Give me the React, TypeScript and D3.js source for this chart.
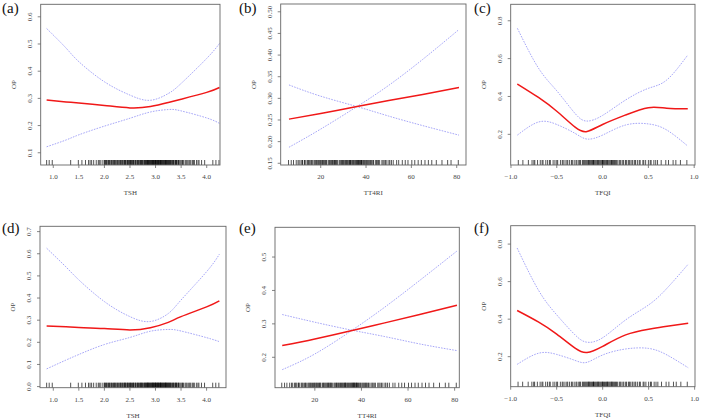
import React from 'react'
import * as d3 from 'd3'

// x grids at which the fitted curves were read
const tshGrid = [0.87, 1.25, 1.5, 2.0, 2.5, 2.9, 3.25, 3.5, 4.0, 4.25]
const tt4Grid = [6, 20, 36, 50, 65, 81]
const tfqiGrid = [-0.93, -0.7, -0.5, -0.3, -0.17, 0, 0.25, 0.5, 0.7, 0.93]

// (a)
const aFit = [0.294, 0.287, 0.283, 0.274, 0.265, 0.27, 0.285, 0.297, 0.322, 0.34]
const aUpper = [0.557, 0.485, 0.435, 0.361, 0.312, 0.293, 0.318, 0.355, 0.447, 0.502]
const aLower = [0.122, 0.147, 0.166, 0.198, 0.227, 0.25, 0.259, 0.254, 0.228, 0.208]
// (b)
const bFit = [0.252, 0.265, 0.281, 0.295, 0.309, 0.325]
const bUpper = [0.187, 0.229, 0.281, 0.33, 0.39, 0.459]
const bLower = [0.331, 0.305, 0.281, 0.259, 0.237, 0.215]
// (c)
const cFit = [0.466, 0.395, 0.322, 0.238, 0.215, 0.252, 0.302, 0.341, 0.338, 0.335]
const cUpper = [0.76, 0.55, 0.43, 0.31, 0.27, 0.3, 0.381, 0.443, 0.487, 0.619]
const cLower = [0.196, 0.265, 0.252, 0.205, 0.175, 0.196, 0.249, 0.255, 0.223, 0.138]
// (d)
const dFit = [0.274, 0.27, 0.267, 0.262, 0.256, 0.266, 0.29, 0.316, 0.36, 0.387]
const dUpper = [0.625, 0.54, 0.482, 0.384, 0.316, 0.294, 0.33, 0.391, 0.519, 0.598]
const dLower = [0.08, 0.12, 0.145, 0.19, 0.222, 0.25, 0.258, 0.251, 0.221, 0.203]
// (e)
const eFit = [0.235, 0.255, 0.28, 0.303, 0.328, 0.356]
const eUpper = [0.163, 0.21, 0.281, 0.35, 0.43, 0.518]
const eLower = [0.328, 0.305, 0.281, 0.262, 0.24, 0.22]
// (f)
const fFit = [0.446, 0.385, 0.32, 0.245, 0.222, 0.255, 0.316, 0.346, 0.362, 0.378]
const fUpper = [0.779, 0.556, 0.423, 0.316, 0.277, 0.301, 0.396, 0.476, 0.565, 0.693]
const fLower = [0.159, 0.218, 0.212, 0.18, 0.17, 0.209, 0.241, 0.244, 0.209, 0.141]

// rug observations
const tshRug = [0.87, 0.92, 0.98, 1.34, 1.49, 1.56, 1.63, 1.69, 1.72, 1.79, 1.84, 1.88, 1.93, 1.97,
  2.0, 2.02, 2.05, 2.07, 2.1, 2.13, 2.14, 2.18, 2.2, 2.23, 2.26, 2.28, 2.31, 2.33, 2.35, 2.38, 2.4,
  2.42, 2.45, 2.47, 2.5, 2.52, 2.55, 2.57, 2.6, 2.61, 2.64, 2.66, 2.69, 2.7, 2.72, 2.74, 2.77, 2.79,
  2.8, 2.83, 2.85, 2.87, 2.89, 2.9, 2.92, 2.94, 2.96, 2.98, 3.0, 3.01, 3.03, 3.05, 3.07, 3.08, 3.1,
  3.12, 3.14, 3.16, 3.18, 3.2, 3.22, 3.24, 3.26, 3.28, 3.3, 3.33, 3.35, 3.38, 3.4, 3.42, 3.45, 3.48,
  3.52, 3.55, 3.58, 3.62, 3.65, 3.69, 3.72, 3.76, 3.8, 3.85, 3.9, 3.96, 4.12, 4.18, 4.24,
  2.01, 2.04, 2.08, 2.11, 2.16, 2.19, 2.22, 2.25, 2.29, 2.32, 2.36, 2.39, 2.41, 2.44, 2.46, 2.49,
  2.51, 2.53, 2.56, 2.58, 2.62, 2.65, 2.67, 2.71, 2.73, 2.75, 2.78, 2.81, 2.82, 2.84, 2.86, 2.88,
  2.91, 2.93, 2.95, 2.97, 2.99, 3.02, 3.04, 3.06, 3.09, 3.11, 3.13, 3.15, 3.17, 3.19, 3.21, 3.23,
  3.25, 3.27, 3.29, 3.31, 3.34, 3.36, 3.39, 3.41, 3.44, 3.46, 3.5, 3.53, 3.6, 3.67, 3.74, 3.83,
  1.75, 1.9, 2.95, 3.0, 3.1, 3.2, 3.05, 2.85]
const tt4Rug = [5.8, 7, 8, 9.2, 10, 11.3, 12, 12.8, 13.5, 14.2, 15, 15.6, 16.3, 17, 17.8, 18.5, 19,
  19.8, 20.5, 21.2, 22, 22.6, 23.3, 24, 24.8, 25.5, 26.1, 26.8, 27.5, 28.2, 29, 29.6, 30.3, 31, 31.7,
  32.4, 33, 33.8, 34.5, 35.2, 36, 36.6, 37.3, 38, 38.7, 39.4, 40.2, 41, 41.8, 42.5, 43.3, 44.1, 45,
  46, 47, 48, 49.2, 50.1, 52, 53.5, 54.4, 56, 57.3, 58.5, 60.2, 61.5, 63, 64.4, 66, 67.5, 69, 71,
  73.5, 76, 77.5, 80.7,
  10.5, 11.8, 13, 14.6, 16, 17.4, 18.2, 19.4, 20.1, 21.6, 22.3, 23.7, 24.4, 25.2, 26.5, 27.1, 28.6,
  29.3, 30, 30.7, 31.4, 32, 32.7, 33.4, 34.1, 34.8, 35.5, 35.9, 36.3, 37, 37.6, 38.3, 39, 39.7, 40.6,
  41.4, 42.1, 43, 44.6, 45.5, 47.5, 48.6, 50.5, 51.2, 20.8, 25.9, 33.1, 36.8, 37.9]
const tfqiRug = [-0.92, -0.87, -0.81, -0.77, -0.74, -0.71, -0.68, -0.65, -0.62, -0.6, -0.57, -0.54,
  -0.52, -0.49, -0.46, -0.44, -0.41, -0.38, -0.36, -0.33, -0.31, -0.28, -0.26, -0.24, -0.21, -0.19,
  -0.17, -0.15, -0.13, -0.11, -0.09, -0.07, -0.05, -0.03, -0.01, 0.01, 0.03, 0.05, 0.07, 0.09, 0.11,
  0.13, 0.15, 0.18, 0.2, 0.23, 0.25, 0.28, 0.3, 0.33, 0.36, 0.38, 0.41, 0.44, 0.47, 0.5, 0.53, 0.56,
  0.6, 0.64, 0.69, 0.72, 0.77, 0.8, 0.85, 0.92,
  -0.75, -0.66, -0.58, -0.5, -0.43, -0.39, -0.34, -0.29, -0.25, -0.22, -0.2, -0.18, -0.16, -0.14,
  -0.12, -0.1, -0.08, -0.06, -0.04, -0.02, 0.0, 0.02, 0.04, 0.06, 0.08, 0.1, 0.12, 0.14, 0.16, 0.19,
  0.22, 0.26, 0.29, 0.32, 0.35, 0.4, 0.45, 0.52, 0.58, -0.05, -0.1, 0.0, 0.05, -0.15, 0.1]

// tick labels
const tshTicks = [1.0, 1.5, 2.0, 2.5, 3.0, 3.5, 4.0]
const tt4Ticks = [20, 40, 60, 80]
const tfqiTicks = [-1.0, -0.5, 0.0, 0.5, 1.0]
const aYTicks = [0.1, 0.2, 0.3, 0.4, 0.5, 0.6]
const bYTicks = [0.15, 0.2, 0.25, 0.3, 0.35, 0.4, 0.45, 0.5]
const cYTicks = [0.2, 0.4, 0.6, 0.8]
const dYTicks = [0.0, 0.1, 0.2, 0.3, 0.4, 0.5, 0.6, 0.7]
const eYTicks = [0.2, 0.3, 0.4, 0.5]
const fYTicks = [0.2, 0.4, 0.6, 0.8]

type Spec = {
  tag: string
  box: [number, number, number, number]
  xDom: [number, number]
  yDom: [number, number]
  xTicks: number[]
  yTicks: number[]
  xFmt: string
  yFmt: string
  grid: number[]
  fit: number[]
  upper: number[]
  lower: number[]
  rug: number[]
  xLabel: string
  tagPos: [number, number]
}

const panels: Spec[] = [
  { tag: '(a)', box: [40.7, 4.3, 220, 165], xDom: [0.754, 4.26], yDom: [0.055, 0.646],
    xTicks: tshTicks, yTicks: aYTicks, xFmt: '.1f', yFmt: '.1f', grid: tshGrid,
    fit: aFit, upper: aUpper, lower: aLower, rug: tshRug, xLabel: 'TSH', tagPos: [2, 13] },
  { tag: '(b)', box: [280.7, 4, 466, 165], xDom: [2.35, 84.1], yDom: [0.146, 0.518],
    xTicks: tt4Ticks, yTicks: bYTicks, xFmt: 'd', yFmt: '.2f', grid: tt4Grid,
    fit: bFit, upper: bUpper, lower: bLower, rug: tt4Rug, xLabel: 'TT4RI', tagPos: [239, 13] },
  { tag: '(c)', box: [510.7, 4.3, 695, 165], xDom: [-1.003, 1.009], yDom: [0.038, 0.887],
    xTicks: tfqiTicks, yTicks: cYTicks, xFmt: '.1f', yFmt: '.1f', grid: tfqiGrid,
    fit: cFit, upper: cUpper, lower: cLower, rug: tfqiRug, xLabel: 'TFQI', tagPos: [474, 13] },
  { tag: '(d)', box: [40, 226.3, 226, 387.7], xDom: [0.74, 4.38], yDom: [-0.005, 0.724],
    xTicks: tshTicks, yTicks: dYTicks, xFmt: '.1f', yFmt: '.1f', grid: tshGrid,
    fit: dFit, upper: dUpper, lower: dLower, rug: tshRug, xLabel: 'TSH', tagPos: [2, 233] },
  { tag: '(e)', box: [275, 227.3, 459.3, 387.7], xDom: [2.9, 82.0], yDom: [0.109, 0.589],
    xTicks: tt4Ticks, yTicks: eYTicks, xFmt: 'd', yFmt: '.1f', grid: tt4Grid,
    fit: eFit, upper: eUpper, lower: eLower, rug: tt4Rug, xLabel: 'TT4RI', tagPos: [239, 233] },
  { tag: '(f)', box: [510.7, 225.7, 695, 386.7], xDom: [-1.0, 1.004], yDom: [0.04, 0.898],
    xTicks: tfqiTicks, yTicks: fYTicks, xFmt: '.1f', yFmt: '.1f', grid: tfqiGrid,
    fit: fFit, upper: fUpper, lower: fLower, rug: tfqiRug, xLabel: 'TFQI', tagPos: [474, 233] },
]

const tickFont = '"Liberation Serif", serif'

const Panel = ({ p }: { p: Spec }) => {
  const [x0, y0, x1, y1] = p.box
  const x = d3.scaleLinear().domain(p.xDom).range([x0, x1])
  const y = d3.scaleLinear().domain(p.yDom).range([y1, y0])
  const line = d3.line<[number, number]>()
    .x(d => x(d[0]))
    .y(d => y(d[1]))
    .curve(d3.curveNatural)
  const pts = (vals: number[]) => p.grid.map((g, i) => [g, vals[i]] as [number, number])
  const xf = d3.format(p.xFmt)
  const yf = d3.format(p.yFmt)
  const midX = (x0 + x1) / 2
  const midY = (y0 + y1) / 2
  return (
    <g>
      <text x={p.tagPos[0]} y={p.tagPos[1]} fontFamily='"Liberation Serif", serif' fontSize={15} fill="#111">{p.tag}</text>
      {p.rug.map((r, i) => (
        <line key={'r' + i} x1={x(r)} x2={x(r)} y1={y1} y2={y1 - 5} stroke="#000" strokeWidth={0.8} strokeOpacity={0.85} />
      ))}
      <path d={line(pts(p.upper)) || ''} fill="none" stroke="#8f8ff5" strokeWidth={0.8} strokeDasharray="1.6,1.2" />
      <path d={line(pts(p.lower)) || ''} fill="none" stroke="#8f8ff5" strokeWidth={0.8} strokeDasharray="1.6,1.2" />
      <path d={line(pts(p.fit)) || ''} fill="none" stroke="#f01818" strokeWidth={1.5} />
      <rect x={x0} y={y0} width={x1 - x0} height={y1 - y0} fill="none" stroke="#666" strokeWidth={0.9} />
      {p.xTicks.map(t => (
        <g key={'x' + t}>
          <line x1={x(t)} x2={x(t)} y1={y1} y2={y1 + 3} stroke="#666" strokeWidth={0.8} />
          <text x={x(t)} y={y1 + 14} textAnchor="middle" fontFamily={tickFont} fontSize={7} fill="#444">{xf(t)}</text>
        </g>
      ))}
      {p.yTicks.map(t => (
        <g key={'y' + t}>
          <line x1={x0 - 3} x2={x0} y1={y(t)} y2={y(t)} stroke="#666" strokeWidth={0.8} />
          <text transform={`translate(${x0 - 9},${y(t)}) rotate(-90)`} textAnchor="middle" fontFamily={tickFont} fontSize={7} fill="#444">{yf(t)}</text>
        </g>
      ))}
      <text x={midX} y={y1 + 30} textAnchor="middle" fontFamily={tickFont} fontSize={7} fill="#444">{p.xLabel}</text>
      <text transform={`translate(${x0 - 25},${midY}) rotate(-90)`} textAnchor="middle" fontFamily={tickFont} fontSize={7} fill="#444">OP</text>
    </g>
  )
}

export default function App() {
  return (
    <svg width={702} height={419} style={{ position: 'absolute', left: 0, top: 0, background: '#fff' }}>
      <rect width={702} height={419} fill="#fff" />
      {panels.map(p => <Panel key={p.tag} p={p} />)}
    </svg>
  )
}
